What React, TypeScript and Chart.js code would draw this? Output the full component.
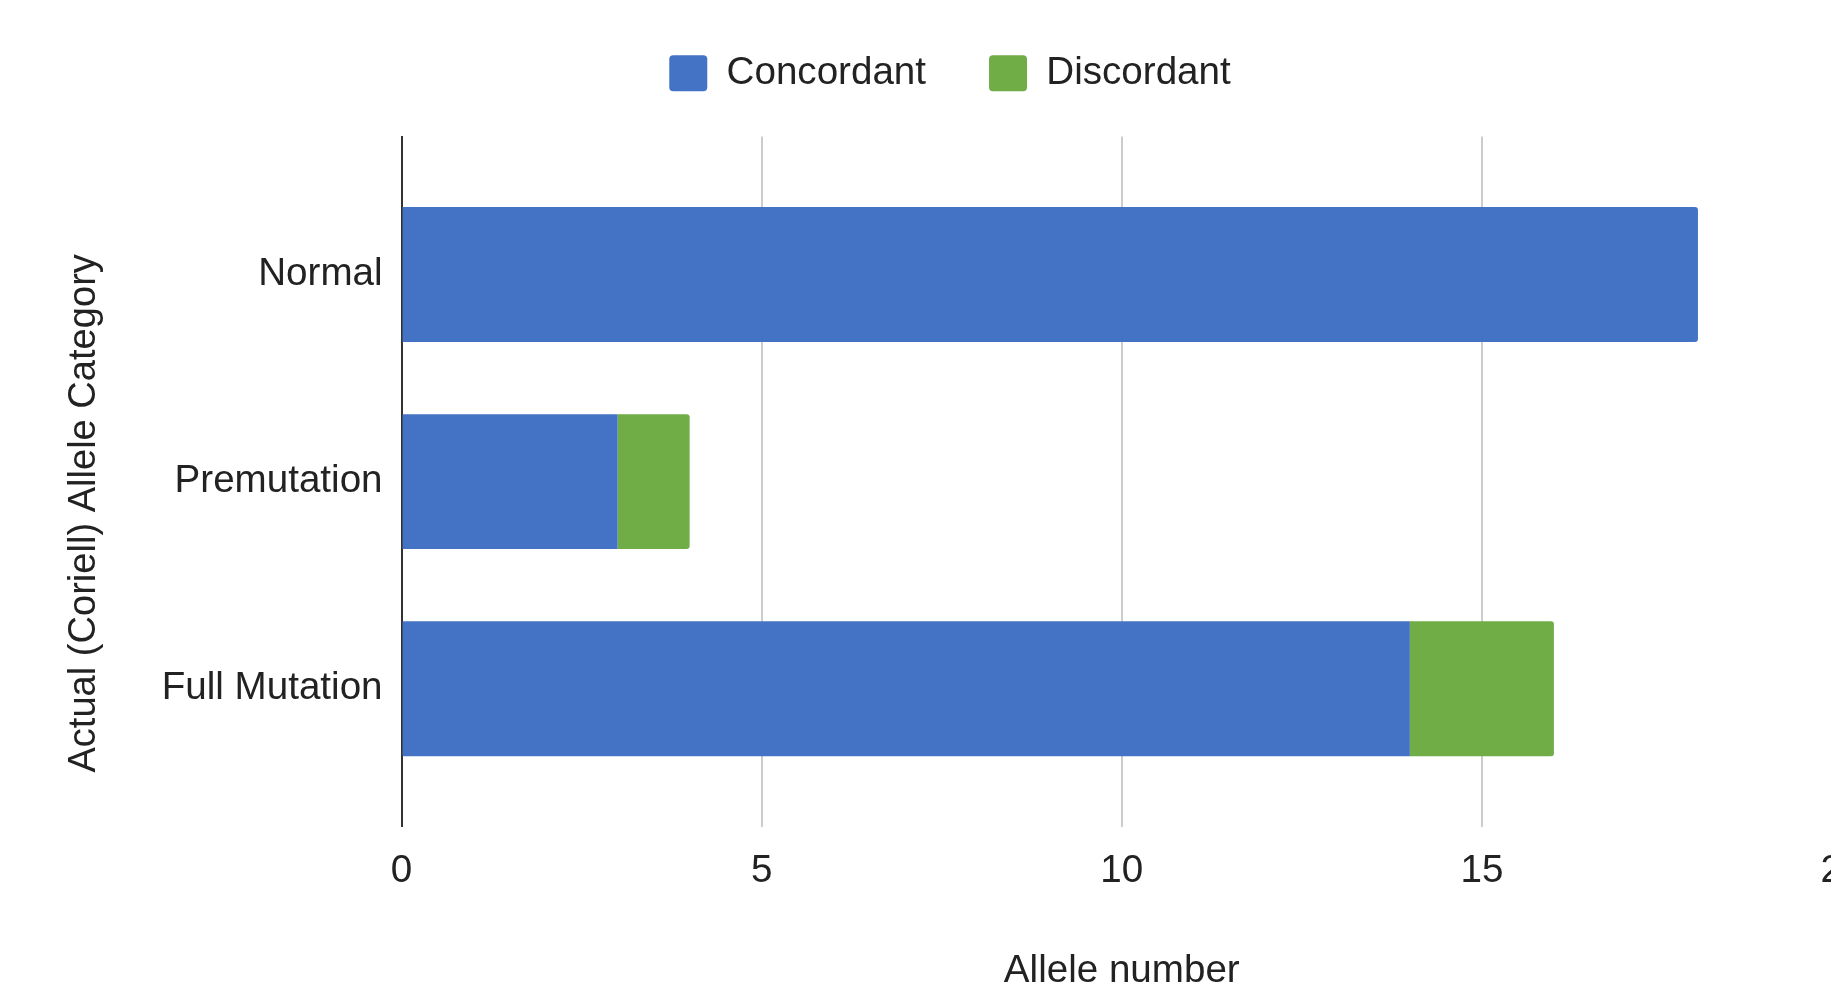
import React, { useEffect, useRef } from 'react';
import { Chart, registerables } from 'chart.js';

Chart.register(...registerables);

const categories = ['Normal', 'Premutation', 'Full Mutation'];
const concordant = [18, 3, 14];
const discordant = [0, 1, 2];
const xTicks = [0, 5, 10, 15, 20];
const seriesNames = ['Concordant', 'Discordant'];
const seriesColors = ['#4472c4', '#70ad47'];
const xTitle = 'Allele number';
const yTitle = 'Actual (Coriell) Allele Category';

const FAMILY = "'Liberation Sans', Arial, sans-serif";
const font = { family: FAMILY, size: 38.6 };
const TEXT = '#222222';

const legendSpacer = {
  id: 'legendSpacer',
  beforeInit(chart: any) {
    const legend = chart.legend;
    if (!legend) return;
    const orig = legend.fit;
    legend.fit = function () {
      orig.call(legend);
      this.height += 34;
    };
  },
};

export default function App() {
  const ref = useRef<HTMLCanvasElement | null>(null);

  useEffect(() => {
    const canvas = ref.current;
    if (!canvas) return;
    const seriesData = [concordant, discordant];
    const chart = new Chart(canvas, {
      type: 'bar',
      data: {
        datasets: seriesNames.map((name, s) => ({
          label: name,
          data: seriesData[s].map((v, i) => ({ x: v, y: i })),
          backgroundColor: seriesColors[s],
          borderWidth: 0,
          borderRadius: 3,
          categoryPercentage: 1,
          barPercentage: 0.652,
        })),
      },
      options: {
        indexAxis: 'y',
        responsive: false,
        animation: false,
        layout: { padding: { left: 58, right: 58, top: 0, bottom: 0 } },
        plugins: {
          legend: {
            position: 'top',
            align: 'center',
            labels: {
              boxWidth: 38,
              boxHeight: 36,
              padding: 63,
              color: TEXT,
              font,
              useBorderRadius: true,
              borderRadius: 4,
            },
          },
          tooltip: { enabled: false },
          title: { display: false },
        },
        scales: {
          x: {
            type: 'linear',
            stacked: true,
            min: xTicks[0],
            max: xTicks[xTicks.length - 1],
            ticks: {
              stepSize: xTicks[1] - xTicks[0],
              padding: 21.5,
              color: TEXT,
              font,
            },
            grid: { color: '#cccccc', lineWidth: 2, drawTicks: false },
            border: { display: false },
            title: {
              display: true,
              text: xTitle,
              color: TEXT,
              font,
              padding: { top: 32, bottom: 1.7 },
            },
          },
          y: {
            type: 'linear',
            stacked: true,
            reverse: true,
            offset: false,
            bounds: 'data',
            min: -2 / 3,
            max: categories.length - 1 + 2 / 3,
            afterBuildTicks: (scale: any) => {
              scale.ticks = categories.map((_, i) => ({ value: i }));
            },
            ticks: {
              padding: 19,
              color: TEXT,
              font,
              callback: (v: any) => categories[v as number] ?? '',
            },
            grid: { display: false, drawTicks: false, offset: false },
            border: { display: true, color: '#333333', width: 2 },
            title: {
              display: true,
              text: yTitle + '      ',
              color: TEXT,
              font: { family: FAMILY, size: 38.1 },
              padding: { top: 4, bottom: 35 },
            },
          },
        },
      } as any,
      plugins: [legendSpacer],
    });
    return () => chart.destroy();
  }, []);

  return (
    <div
      style={{
        position: 'fixed',
        left: 0,
        top: 0,
        width: '100vw',
        height: '100vh',
        overflow: 'hidden',
        background: '#ffffff',
      }}
    >
      <canvas
        ref={ref}
        width={1900}
        height={1005}
        style={{ position: 'absolute', left: 0, top: -9 }}
      />
    </div>
  );
}
